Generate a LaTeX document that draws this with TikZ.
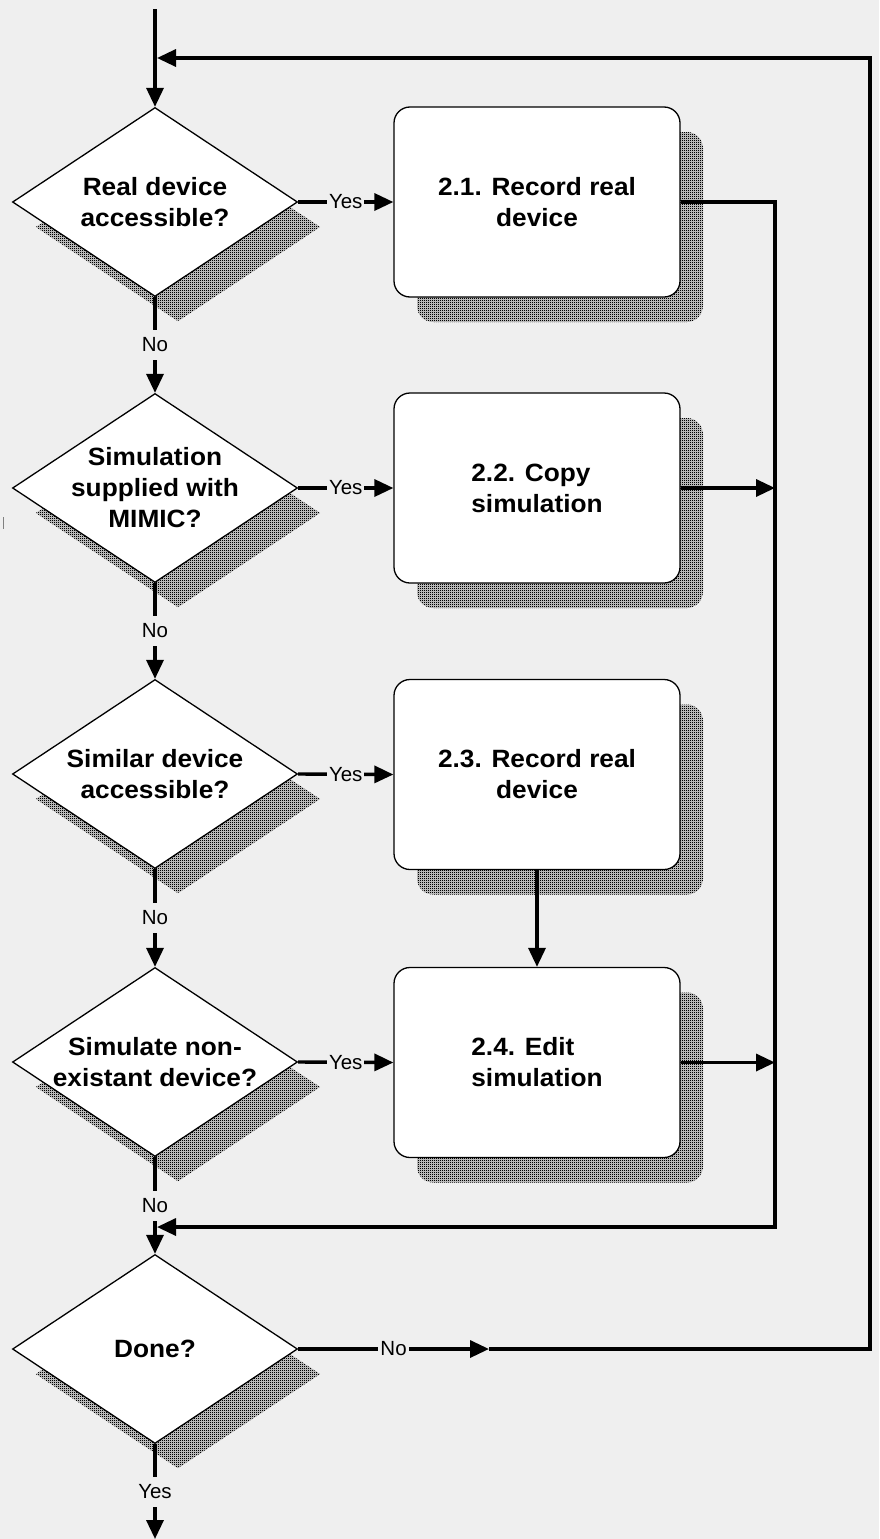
\documentclass[tikz,border=0pt]{standalone}
\usepackage{fontspec}
\setmainfont{Liberation Sans}
\newfontfamily\qfont{Liberation Sans}[FakeStretch=1.05]
\usetikzlibrary{arrows.meta,shapes.geometric,shadows,patterns}
\definecolor{bg}{HTML}{EFEFEF}
\definecolor{shadowgrey}{HTML}{B8B8B8}
% fine dot stipple used for the drop shadows
\pgfdeclarepatternformonly{stipple}{\pgfqpoint{0pt}{0pt}}{\pgfqpoint{1pt}{1pt}}{\pgfqpoint{2pt}{2pt}}{%
  \pgfpathrectangle{\pgfqpoint{0pt}{0pt}}{\pgfqpoint{1pt}{1pt}}\pgfusepath{fill}}

\begin{document}
\begin{tikzpicture}[x=1pt,y=-1pt,
  stippled/.style={general shadow={shadow xshift=23pt, shadow yshift=-25pt,
      fill=shadowgrey, postaction={pattern=stipple, pattern color=black}}},
  question/.style={shape=diamond, draw, fill=white, line width=1.3pt,
      minimum width=285pt, minimum height=189pt, inner sep=0pt, stippled},
  qtext/.style={font={\qfont\bfseries\fontsize{25}{31}\selectfont}, align=center, inner sep=0pt},
  task/.style={draw, fill=white, line width=1.3pt, rounded corners=16pt,
      minimum width=286pt, minimum height=190pt, inner sep=0pt,
      font={\qfont\bfseries\fontsize{25}{31}\selectfont}, align=center, stippled},
  conn/.style={line width=3.4pt},
  arr/.style={conn, -{Triangle[length=19pt,width=17pt]}},
  lbl/.style={fill=bg, font={\fontsize{20.5}{24}\selectfont}, inner xsep=2pt,
      inner ysep=0pt, minimum height=30pt}
]
\fill[bg] (0,0) rectangle (879,1539);
\useasboundingbox (0,0) rectangle (879,1539);

% decision column
\node[question] (d1) at (155,202) {};
\node[qtext] (d1t) at (d1) {Real device\\accessible?};
\node[question] (d2) at (155,488) {};
\node[qtext] (d2t) at (d2) {Simulation\\supplied with\\MIMIC?};
\node[question] (d3) at (155,774) {};
\node[qtext] (d3t) at (d3) {Similar device\\accessible?};
\node[question] (d4) at (155,1062) {};
\node[qtext] (d4t) at (d4) {Simulate non-\\existant device?};
\node[question] (done) at (155,1349) {};
\node[qtext] (donet) at (done) {Done?};

% task column
\node[task] (b1) at (537,202) {2.1. Record real\\device};
\node[task, align=left] (b2) at (537,488) {2.2. Copy\\simulation};
\node[task] (b3) at (537,774.5) {2.3. Record real\\device};
\node[task, align=left] (b4) at (537,1062.5) {2.4. Edit\\simulation};

% stray mark at the left edge
\draw[gray, line width=1.3pt] (3.5,517) -- (3.5,529);

% routing points
\coordinate (top) at (155,9);
\coordinate (bottom) at (155,1539);
\coordinate (busTop) at (775,202);
\coordinate (busBot) at (775,1227);
\coordinate (joinLow) at (157,1227);
\coordinate (midNo) at (489,1349);
\coordinate (loopR) at (870,1349);
\coordinate (loopRT) at (870,58);
\coordinate (joinTop) at (157,58);

% main flow
\draw[arr] (top) -- (d1.north);
\draw[arr] (d1.south) -- (d2.north) node[lbl, midway] {No};
\draw[arr] (d2.south) -- (d3.north) node[lbl, midway] {No};
\draw[arr] (d3.south) -- (d4.north) node[lbl, midway] {No};
\draw[arr] (d4.south) -- (done.north) node[lbl, midway] {No};
\draw[arr] (done.south) -- (bottom) node[lbl, midway] {Yes};

% yes branches
\draw[arr] (d1.east) -- (b1.west) node[lbl, midway] {Yes};
\draw[arr] (d2.east) -- (b2.west) node[lbl, midway] {Yes};
\draw[arr] (d3.east) -- (b3.west) node[lbl, midway] {Yes};
\draw[arr] (d4.east) -- (b4.west) node[lbl, midway] {Yes};
\draw[arr] (b3.south) -- (b4.north);

% collecting bus back into the column
\draw[arr] (b1.east) -- (busTop) -- (busBot) -- (joinLow);
\draw[arr] (b2.east) -- (b2.east -| busTop);
\draw[arr] (b4.east) -- (b4.east -| busTop);

% loop back to the start
\draw[arr] (done.east) -- (midNo) node[lbl, midway] {No};
\draw[arr] (midNo) -- (loopR) -- (loopRT) -- (joinTop);
\end{tikzpicture}
\end{document}
